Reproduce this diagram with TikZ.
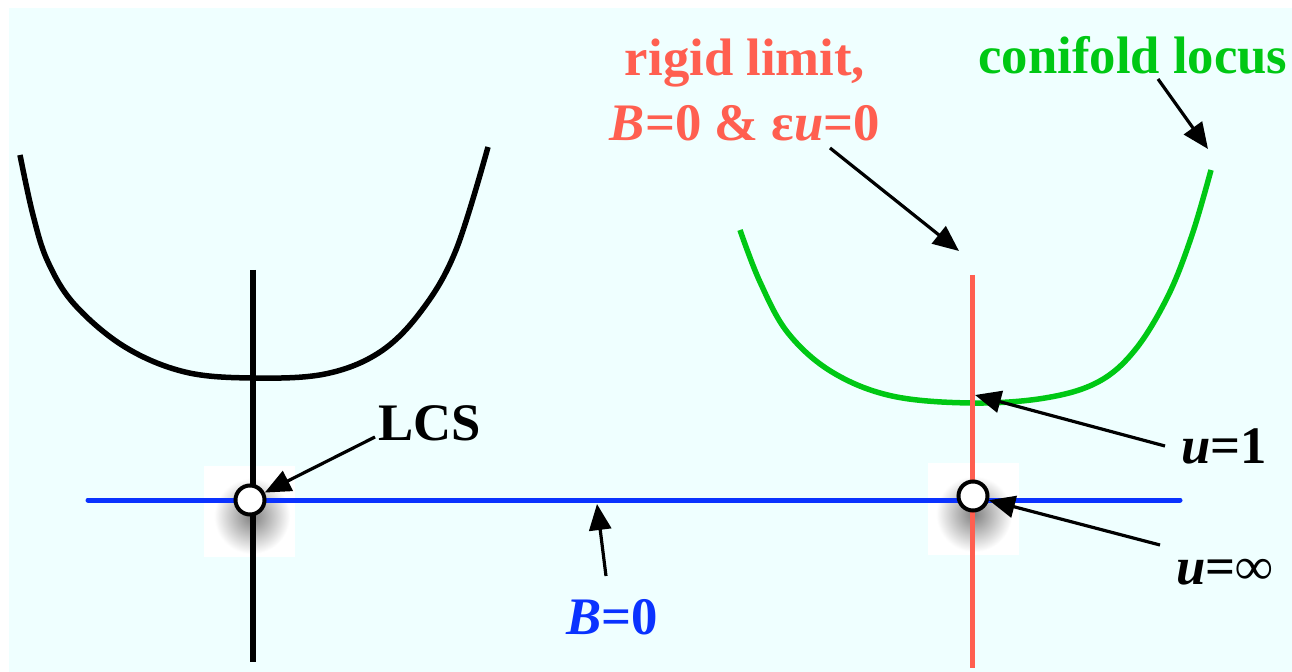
\documentclass[tikz,border=0pt]{standalone}
\usepackage{fontspec}
\setmainfont{Liberation Serif}
\usepackage{tikz}
\usetikzlibrary{arrows.meta}
\definecolor{bgcyan}{RGB}{239,255,255}
\definecolor{rigidred}{RGB}{255,95,80}
\definecolor{conigreen}{RGB}{0,200,20}
\definecolor{bblue}{RGB}{10,50,255}
\newcommand{\uit}{\textit}

\begin{document}
\begin{tikzpicture}[x=0.02cm, y=-0.02cm,
	every node/.style={font=\fontsize{30}{37}\selectfont\bfseries, inner sep=0pt},
	pointer/.style={-{Triangle[length=26*0.02cm, width=22*0.02cm]}, line width=3.2*0.02cm, black},
	pt/.style={circle, draw=black, fill=white, line width=4*0.02cm, minimum size=29*0.02cm}]
	\useasboundingbox (0,0) rectangle (1292,672);
	\fill[bgcyan] (9,8) rectangle (1292,672);
	% white patches with soft shadows
	\fill[white] (204,466) rectangle (295,557);
	\fill[white] (928,463) rectangle (1019,555);
	\shade[inner color=black!50, outer color=white] (252,516) circle (38);
	\shade[inner color=black!50, outer color=white] (974,514) circle (38);
	% curves and lines
	\draw[line width=5.5*0.02cm, black] plot[smooth, tension=0.6] coordinates
		{(20,155) (33,215) (48,262) (75,305) (125,347) (185,372) (253,378) (325,374) (380,352) (422,310) (456,250) (488,147)};
	\draw[line width=5.5*0.02cm, conigreen] plot[smooth, tension=0.6] coordinates
		{(740,230) (760,282) (788,333) (832,372) (892,396) (972,403) (1045,398) (1098,382) (1135,350) (1168,296) (1192,235) (1211,170)};
	\draw[line width=6*0.02cm, black] (253,270) -- (253,662);
	\draw[line width=5*0.02cm, rigidred] (972,275) -- (972,668);
	\draw[line width=5*0.02cm, bblue, line cap=round] (88,500) -- (1180,500);
	\node[pt] (lcspt) at (250,500) {};
	\node[pt] (infpt) at (973,496) {};
	\coordinate (onept) at (975,395);
	\coordinate (rigidpt) at (959,251);
	\coordinate (locuspt) at (1208,149);
	\coordinate (bpt) at (597,504);
	% labels
	\node (lcs) at (430,423) {LCS};
	\node[align=center, text=rigidred] (rigid) at (745,90) {rigid limit,\\\uit{B}=0 \& ε\uit{u}=0};
	\node[text=conigreen] (locus) at (1133,55) {conifold locus};
	\node (uone) at (1224,446) {\uit{u}=1};
	\node (uinf) at (1225,572) {\uit{u}=∞};
	\node[text=bblue] (bzero) at (612,617) {\uit{B}=0};
	% tails of the pointers
	\coordinate (lcstail) at (375,437);
	\coordinate (rigidtail) at (830,148);
	\coordinate (locustail) at (1158,79);
	\coordinate (onetail) at (1165,446);
	\coordinate (inftail) at (1160,545);
	\coordinate (btail) at (606,576);
	% pointers
	\draw[pointer] (lcstail) -- (lcspt);
	\draw[pointer] (rigidtail) -- (rigidpt);
	\draw[pointer] (locustail) -- (locuspt);
	\draw[pointer] (onetail) -- (onept);
	\draw[pointer] (inftail) -- (infpt);
	\draw[pointer] (btail) -- (bpt);
\end{tikzpicture}
\end{document}
